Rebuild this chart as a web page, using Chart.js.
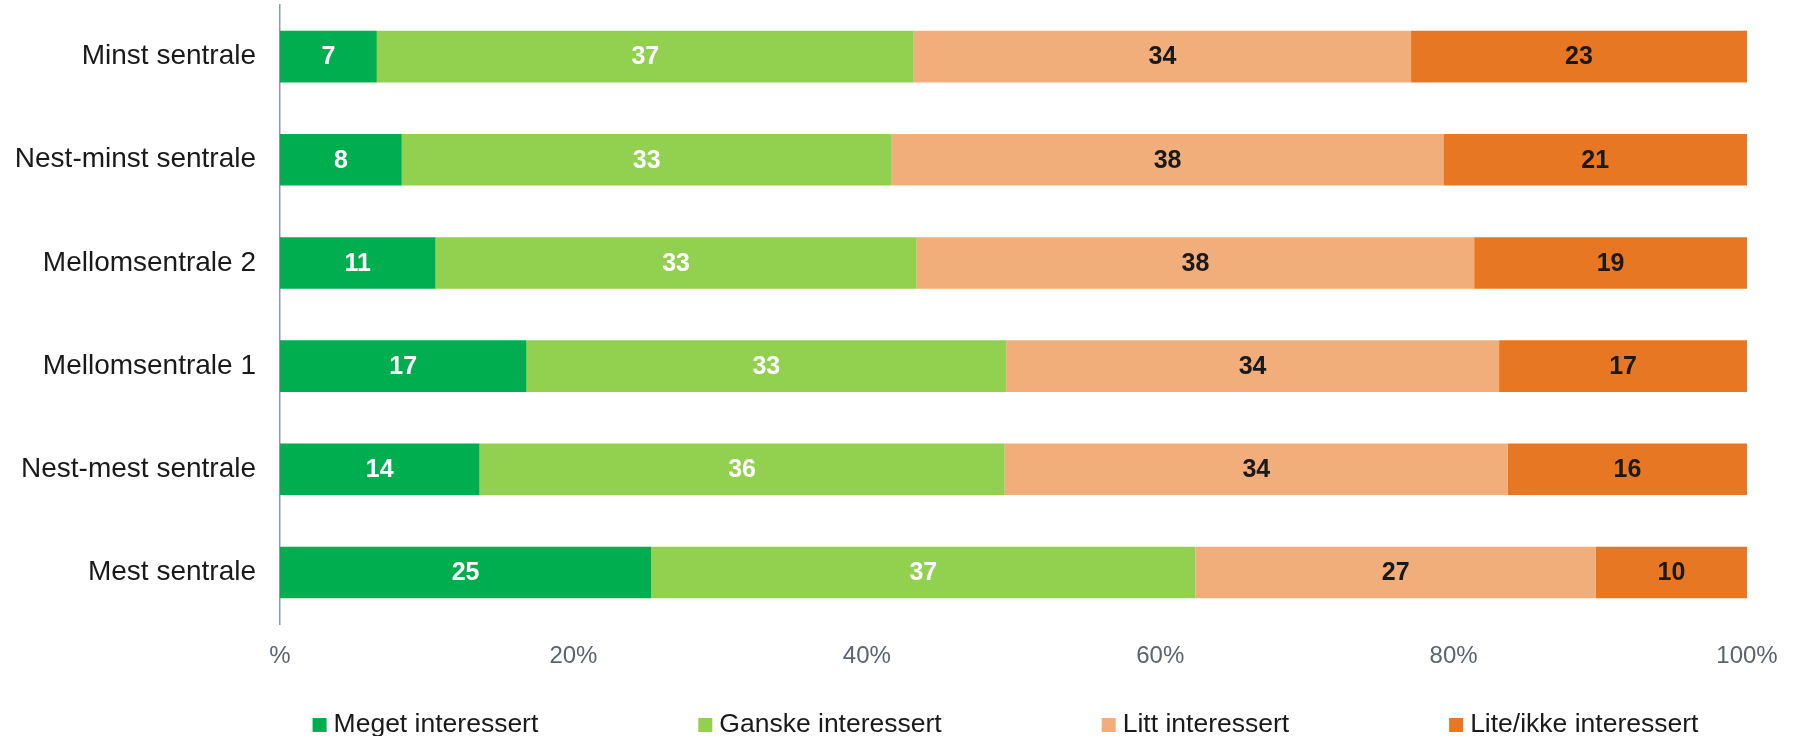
<!DOCTYPE html>
<html>
<head>
<meta charset="utf-8">
<script src="https://cdn.jsdelivr.net/npm/chart.js@4.4.1/dist/chart.umd.min.js"></script>
<style>
  html, body { margin: 0; padding: 0; background: #ffffff; }
  #wrap { width: 1803px; height: 736px; }
</style>
</head>
<body>
<div id="wrap"><canvas id="chart" width="1803" height="736"></canvas></div>
<script>
  const categories = [
    "Minst sentrale",
    "Nest-minst sentrale",
    "Mellomsentrale 2",
    "Mellomsentrale 1",
    "Nest-mest sentrale",
    "Mest sentrale"
  ];
  const seriesNames = [
    "Meget interessert",
    "Ganske interessert",
    "Litt interessert",
    "Lite/ikke interessert"
  ];
  const meget = [6.6, 8.3, 10.6, 16.8, 13.6, 25.3];
  const ganske = [36.6, 33.4, 32.8, 32.7, 35.8, 37.1];
  const litt = [33.9, 37.6, 38.0, 33.6, 34.3, 27.3];
  const lite = [22.9, 20.7, 18.6, 16.9, 16.3, 10.3];
  const tickLabels = ["%", "20%", "40%", "60%", "80%", "100%"];

  const colors = ["#00ae50", "#92d050", "#f1ad7a", "#e77723"];
  const labelColors = ["#ffffff", "#ffffff", "#1a1a1a", "#1a1a1a"];
  const FONT = "'Liberation Sans', Arial, sans-serif";

  const barValuePlugin = {
    id: "barValuePlugin",
    afterDatasetsDraw(chart) {
      const { ctx } = chart;
      ctx.save();
      ctx.font = "bold 25px " + FONT;
      ctx.textAlign = "center";
      ctx.textBaseline = "middle";
      chart.data.datasets.forEach((dataset, di) => {
        const meta = chart.getDatasetMeta(di);
        meta.data.forEach((bar, i) => {
          const value = dataset.data[i];
          ctx.fillStyle = labelColors[di];
          ctx.fillText(String(Math.round(value)), (bar.x + bar.base) / 2, bar.y + 1);
        });
      });
      ctx.restore();
    }
  };

  const bottomLegendPlugin = {
    id: "bottomLegendPlugin",
    afterDraw(chart) {
      const { ctx, chartArea } = chart;
      const box = 14;
      const gapText = 7;
      const gapItem = 160;
      ctx.save();
      ctx.font = "26.5px " + FONT;
      ctx.textBaseline = "middle";
      ctx.textAlign = "left";
      const widths = seriesNames.map((name) => box + gapText + ctx.measureText(name).width);
      const total = widths.reduce((a, b) => a + b, 0) + gapItem * (widths.length - 1);
      let x = (chartArea.left + chartArea.right) / 2 - 8 - total / 2;
      const y = chartArea.bottom + 101;
      seriesNames.forEach((name, i) => {
        ctx.fillStyle = colors[i];
        ctx.fillRect(x, y - box / 2, box, box);
        ctx.fillStyle = "#1a1a1a";
        ctx.fillText(name, x + box + gapText, y);
        x += widths[i] + gapItem;
      });
      ctx.restore();
    }
  };

  const seriesData = [meget, ganske, litt, lite];

  new Chart(document.getElementById("chart"), {
    type: "bar",
    data: {
      labels: categories,
      datasets: seriesData.map((data, i) => ({
        label: seriesNames[i],
        data: data,
        backgroundColor: colors[i],
        borderWidth: 0,
        categoryPercentage: 1,
        barPercentage: 0.5
      }))
    },
    options: {
      indexAxis: "y",
      responsive: false,
      animation: false,
      layout: {
        padding: { top: 5, right: 56, bottom: 52, left: 0 }
      },
      plugins: {
        legend: { display: false },
        tooltip: { enabled: false }
      },
      scales: {
        x: {
          stacked: true,
          min: 0,
          max: 100,
          afterFit(scale) { scale.height = 60; },
          grid: { display: false, drawTicks: false },
          border: { display: false },
          ticks: {
            stepSize: 20,
            padding: 18,
            color: "#5b6370",
            font: { family: FONT, size: 24 },
            callback(value, index) { return tickLabels[index]; }
          }
        },
        y: {
          stacked: true,
          afterFit(scale) {
            scale.width = 280;
            scale.paddingTop = 0;
            scale.paddingBottom = 0;
          },
          grid: { color: "transparent", drawTicks: false },
          border: { display: true, color: "#8f97a8", width: 1.5 },
          ticks: {
            padding: 24,
            color: "#1a1a1a",
            font: { family: FONT, size: 28 }
          }
        }
      }
    },
    plugins: [barValuePlugin, bottomLegendPlugin]
  });
</script>
</body>
</html>
